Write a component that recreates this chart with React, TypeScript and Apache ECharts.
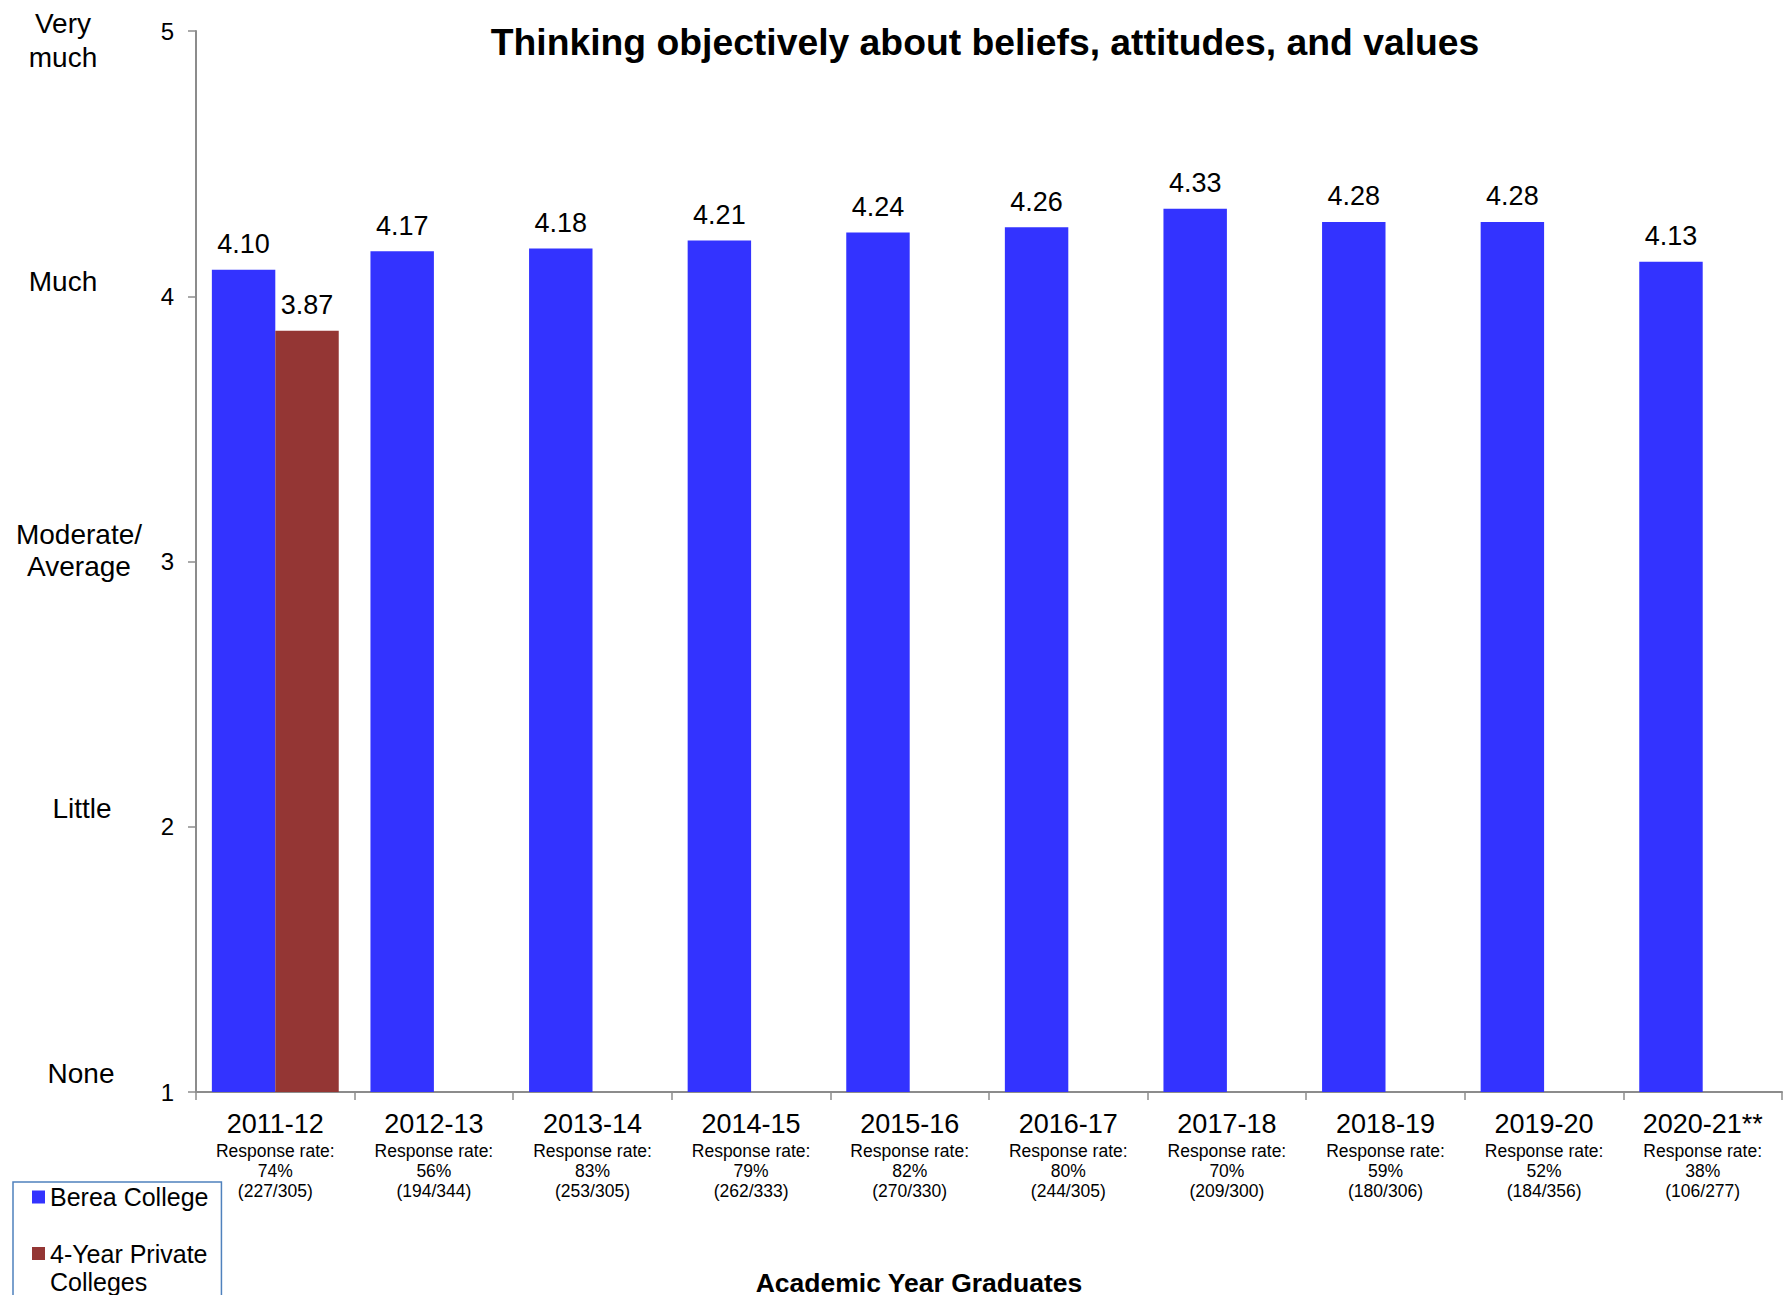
import React, { useEffect, useRef } from "react";
import * as echarts from "echarts";

const titleText = "Thinking objectively about beliefs, attitudes, and values";
const categories = ["2011-12", "2012-13", "2013-14", "2014-15", "2015-16", "2016-17", "2017-18", "2018-19", "2019-20", "2020-21**"];
const bereaValues = [4.10, 4.17, 4.18, 4.21, 4.24, 4.26, 4.33, 4.28, 4.28, 4.13];
const privateValues: (number | null)[] = [3.87, null, null, null, null, null, null, null, null, null];
const responseRates = [74, 56, 83, 79, 82, 80, 70, 59, 52, 38];
const respondents = [227, 194, 253, 262, 270, 244, 209, 180, 184, 106];
const graduates = [305, 344, 305, 333, 330, 305, 300, 306, 356, 277];
const yTicks = [1, 2, 3, 4, 5];
const levelNames = ["None", "Little", "Moderate/\nAverage", "Much", "Very\nmuch"];
const seriesNames = ["Berea College", "4-Year Private Colleges"];
const legendLabels = ["Berea College", "4-Year Private\nColleges"];
const xAxisTitle = "Academic Year Graduates";

const FONT = "'Liberation Sans', Arial, Helvetica, sans-serif";

export default function App() {
  const ref = useRef<HTMLDivElement>(null);
  useEffect(() => {
    if (!ref.current) return;
    const chart = echarts.init(ref.current, null, { renderer: "svg" });
    const levelStyleKeys = ["v1", "v2", "v3", "v4", "v5"];
    const nameStyle = { fontSize: 28, color: "#000", fontFamily: FONT };
    const option: any = {
      animation: false,
      backgroundColor: "#ffffff",
      textStyle: { fontFamily: FONT },
      title: {
        text: titleText,
        left: 980,
        textAlign: "center",
        top: 18,
        textStyle: { fontSize: 37.3, fontWeight: "bold", color: "#000", fontFamily: FONT },
      },
      legend: {
        orient: "vertical",
        left: 13,
        top: 1182,
        height: 300,
        padding: [1, 13, 30, 19],
        itemGap: 2,
        itemWidth: 13,
        itemHeight: 13,
        icon: "rect",
        borderColor: "#4F81BD",
        borderWidth: 1.5,
        textStyle: {
          fontSize: 25,
          lineHeight: 28,
          color: "#000",
          fontFamily: FONT,
          rich: {
            s: { fontSize: 25, lineHeight: 28, color: "#000", fontFamily: FONT },
            m: { fontSize: 25, lineHeight: 28, color: "#000", fontFamily: FONT, padding: [28, 0, 0, 0] },
          },
        },
        formatter: (name: string) => {
          const label = legendLabels[seriesNames.indexOf(name)] ?? name;
          const lines = label.split("\n");
          const key = lines.length > 1 ? "m" : "s";
          return lines.map((l) => `{${key}|${l}}`).join("\n");
        },
        data: seriesNames,
      },
      grid: { left: 196, right: 2, top: 31, bottom: 203, containLabel: false, outerBoundsMode: "none" },
      xAxis: {
        type: "category",
        data: categories,
        name: xAxisTitle,
        nameLocation: "middle",
        nameGap: 177,
        nameTextStyle: { fontSize: 26.5, lineHeight: 28, fontWeight: "bold", color: "#000", fontFamily: FONT, padding: [0, 140, 0, 0] },
        axisLine: { lineStyle: { color: "#8c8c8c", width: 2 } },
        axisTick: { show: true, alignWithLabel: false, length: 8, lineStyle: { color: "#8c8c8c", width: 1.5 } },
        axisLabel: {
          interval: 0,
          margin: 15,
          verticalAlign: "top",
          formatter: (value: string, idx: number) =>
            `{y|${value}}\n{r|Response rate:}\n{r|${responseRates[idx]}%}\n{r|(${respondents[idx]}/${graduates[idx]})}`,
          rich: {
            y: { fontSize: 27, lineHeight: 34, color: "#000", fontFamily: FONT },
            r: { fontSize: 17.5, lineHeight: 20, color: "#000", fontFamily: FONT },
          },
        },
      },
      yAxis: [
        {
          type: "value",
          min: 1,
          max: 5,
          interval: 1,
          splitLine: { show: false },
          axisLine: { show: true, lineStyle: { color: "#8c8c8c", width: 2 } },
          axisTick: { show: true, length: 8, lineStyle: { color: "#8c8c8c", width: 1.5 } },
          axisLabel: { fontSize: 24, color: "#000", margin: 22, fontFamily: FONT },
        },
        {
          type: "value",
          position: "left",
          min: 1,
          max: 5,
          interval: 1,
          splitLine: { show: false },
          axisLine: { show: false },
          axisTick: { show: false },
          axisLabel: {
            margin: 124,
            align: "center",
            formatter: (v: number) => {
              const i = yTicks.indexOf(v);
              if (i < 0) return "";
              const key = levelStyleKeys[i];
              return levelNames[i]
                .split("\n")
                .map((line) => `{${key}|${line}}`)
                .join("\n");
            },
            rich: {
              v1: { ...nameStyle, lineHeight: 30, padding: [0, 0, 38, 18] },
              v2: { ...nameStyle, lineHeight: 30, padding: [0, 0, 36, 20] },
              v3: { ...nameStyle, lineHeight: 32, padding: [0, 0, 22, 14] },
              v4: { ...nameStyle, lineHeight: 30, padding: [0, 18, 30, 0] },
              v5: { ...nameStyle, lineHeight: 34, padding: [18, 18, 0, 0] },
            },
          },
        },
      ],
      series: [
        {
          name: seriesNames[0],
          type: "bar",
          data: bereaValues,
          barGap: "0%",
          barCategoryGap: "20%",
          itemStyle: { color: "#3333FF" },
          label: {
            show: true,
            position: "top",
            distance: 12,
            fontSize: 27,
            color: "#000",
            fontFamily: FONT,
            formatter: (p: any) => Number(p.value).toFixed(2),
          },
        },
        {
          name: seriesNames[1],
          type: "bar",
          data: privateValues.map((v) => (v === null ? "-" : v)),
          barGap: "0%",
          barCategoryGap: "20%",
          itemStyle: { color: "#943634" },
          label: {
            show: true,
            position: "top",
            distance: 12,
            fontSize: 27,
            color: "#000",
            fontFamily: FONT,
            formatter: (p: any) => Number(p.value).toFixed(2),
          },
        },
      ],
    };
    chart.setOption(option);
    return () => chart.dispose();
  }, []);
  return (
    <div
      ref={ref}
      style={{ position: "fixed", left: 0, top: 0, width: 1784, height: 1295, background: "#fff" }}
    />
  );
}
